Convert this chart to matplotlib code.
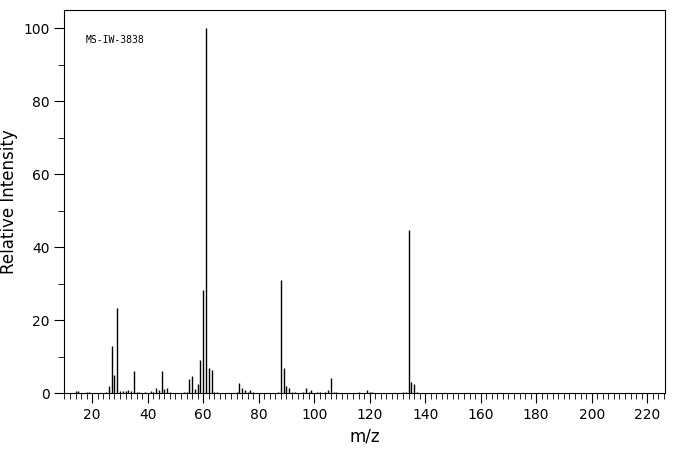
import matplotlib.pyplot as plt
from matplotlib.ticker import MultipleLocator

mz = [14, 15, 18, 19, 25, 26, 27, 28, 29, 30, 31, 32, 33, 34, 35, 36, 37, 39, 41, 42,
      43, 44, 45, 46, 47, 48, 53, 54, 55, 56, 57, 58, 59, 60, 61, 62, 63, 64, 65,
      72, 73, 74, 75, 76, 77, 78, 87, 88, 89, 90, 91, 92, 93, 96, 97, 98, 99, 101,
      102, 104, 105, 106, 107, 108, 116, 119, 120, 121, 132, 133, 134, 135, 136, 137]
intensity = [0.5, 0.6, 0.3, 0.3, 0.3, 2.0, 13.0, 5.0, 23.3, 0.6, 0.6, 0.5, 0.8, 0.6, 6.0,
             0.3, 0.3, 0.3, 0.5, 0.3, 1.5, 0.8, 6.0, 1.0, 1.5, 0.3, 0.3, 0.3, 4.0, 4.6,
             1.0, 2.4, 9.0, 28.3, 100.0, 6.8, 6.2, 0.3, 0.3, 0.3, 2.7, 1.3, 0.8, 0.4,
             0.8, 0.3, 0.4, 31.0, 6.8, 1.9, 1.3, 0.3, 0.3, 0.3, 1.3, 0.3, 0.8, 0.3,
             0.3, 0.3, 0.8, 4.1, 0.3, 0.3, 0.3, 0.8, 0.3, 0.3, 0.3, 0.3, 44.8, 3.0, 2.5, 0.3]

fig = plt.figure(figsize=(6.76, 4.55), dpi=100)
ax = fig.add_axes([0.095, 0.136, 0.889, 0.842])
ax.vlines(mz, 0, intensity, color='black', linewidth=1.0)
ax.set_xlim(9.9, 226.5)
ax.set_ylim(0, 105)
ax.xaxis.set_major_locator(MultipleLocator(20))
ax.xaxis.set_minor_locator(MultipleLocator(2))
ax.yaxis.set_major_locator(MultipleLocator(20))
ax.yaxis.set_minor_locator(MultipleLocator(10))
ax.tick_params(which='major', length=7, labelsize=10)
ax.tick_params(which='minor', length=4)
ax.set_xlabel('m/z', fontsize=12)
ax.set_ylabel('Relative Intensity', fontsize=12)
ax.text(0.035, 0.935, 'MS-IW-3838', transform=ax.transAxes, fontsize=7,
        family='DejaVu Sans Mono', va='top')
fig.savefig('out.png')
